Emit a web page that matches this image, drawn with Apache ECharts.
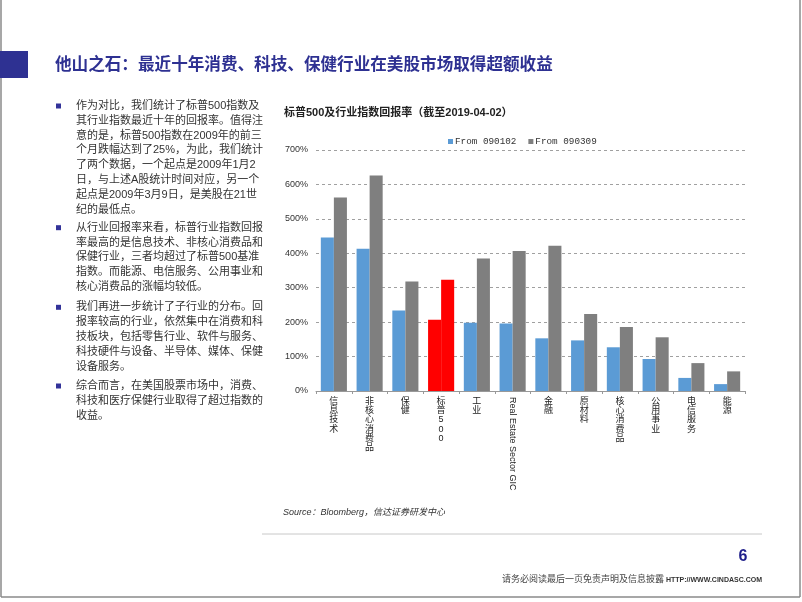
<!DOCTYPE html>
<html><head><meta charset="utf-8">
<script src="https://cdn.jsdelivr.net/npm/echarts@6/dist/echarts.min.js"></script>
<style>html,body{margin:0;padding:0;background:#fff}#c{width:802px;height:602px}</style>
</head><body><div id="c"></div>
<script>
var categories = ['信息技术','非核心消费品','保健','标普500','工业','Real Estate Sector GIC','金融','原材料','核心消费品','公用事业','电信服务','能源'];
var from090102 = [446, 413, 234, 207, 198, 196, 153, 147, 127, 93, 38, 20];
var from090309 = [562, 626, 318, 323, 385, 407, 422, 224, 186, 156, 81, 57];
var seriesNames = ['From 090102', 'From 090309'];
var highlightCategory = '标普500';
var yTicks = {min: 0, max: 700, interval: 100};

var pageTitle = '他山之石：最近十年消费、科技、保健行业在美股市场取得超额收益';
var chartTitle = '标普500及行业指数回报率（截至2019-04-02）';
var bullets = [
  '作为对比，我们统计了标普500指数及\n其行业指数最近十年的回报率。值得注\n意的是，标普500指数在2009年的前三\n个月跌幅达到了25%，为此，我们统计\n了两个数据，一个起点是2009年1月2\n日，与上述A股统计时间对应，另一个\n起点是2009年3月9日，是美股在21世\n纪的最低点。',
  '从行业回报率来看，标普行业指数回报\n率最高的是信息技术、非核心消费品和\n保健行业，三者均超过了标普500基准\n指数。而能源、电信服务、公用事业和\n核心消费品的涨幅均较低。',
  '我们再进一步统计了子行业的分布。回\n报率较高的行业，依然集中在消费和科\n技板块，包括零售行业、软件与服务、\n科技硬件与设备、半导体、媒体、保健\n设备服务。',
  '综合而言，在美国股票市场中，消费、\n科技和医疗保健行业取得了超过指数的\n收益。'
];
var sourceText = 'Source：Bloomberg，信达证券研发中心';
var pageNum = '6';
var footerText = '请务必阅读最后一页免责声明及信息披露';
var footerUrl = 'HTTP://WWW.CINDASC.COM';

var FF = '"Liberation Sans", Arial, "Noto Sans CJK SC", sans-serif';
var blue = '#5B9BD5', grey = '#7F7F7F', red = '#FF0000';

function colorData(vals, base) {
  return vals.map(function (v, i) {
    return categories[i] === highlightCategory ? {value: v, itemStyle: {color: red}} : {value: v, itemStyle: {color: base}};
  });
}
function stackLabel(v) {
  if (/^[A-Za-z ]+$/.test(v) && v.indexOf(' ') >= 0) return '';
  return v.split('').join('\n');
}

var LH = 14.8;
var firstLineCenters = [106, 227.7, 307.3, 386];
var graphics = [
  {type: 'line', shape: {x1: 1, y1: 0, x2: 1, y2: 597}, style: {stroke: '#8a8a8a', lineWidth: 1.5}},
  {type: 'line', shape: {x1: 800, y1: 0, x2: 800, y2: 597}, style: {stroke: '#8a8a8a', lineWidth: 1.5}},
  {type: 'line', shape: {x1: 1, y1: 597, x2: 800, y2: 597}, style: {stroke: '#8a8a8a', lineWidth: 1.5}},
  {type: 'rect', shape: {x: 0, y: 51, width: 28, height: 27}, style: {fill: '#2E3192'}},
  {type: 'text', x: 55, y: 65, style: {text: pageTitle, font: 'bold 16.6px ' + FF, fill: '#2E3192', textVerticalAlign: 'middle'}},
  {type: 'text', x: 284, y: 113, style: {text: chartTitle, font: 'bold 11px ' + FF, fill: '#222', textVerticalAlign: 'middle'}},
  {type: 'text', x: 283, y: 512, style: {text: sourceText, font: 'italic 9px ' + FF, fill: '#333', textVerticalAlign: 'middle'}},
  {type: 'line', shape: {x1: 262, y1: 534, x2: 762, y2: 534}, style: {stroke: '#c8c8c8', lineWidth: 1}},
  {type: 'text', x: 743, y: 557, style: {text: pageNum, font: 'bold 16px ' + FF, fill: '#1F1F8A', textAlign: 'center', textVerticalAlign: 'middle'}},
  {type: 'text', x: 664, y: 580, style: {text: footerText, font: '9px ' + FF, fill: '#444', textAlign: 'right', textVerticalAlign: 'middle'}},
  {type: 'text', x: 762, y: 580, style: {text: footerUrl, font: 'bold 7px ' + FF, fill: '#333', textAlign: 'right', textVerticalAlign: 'middle'}}
];
bullets.forEach(function (t, i) {
  var c = firstLineCenters[i];
  graphics.push({type: 'rect', shape: {x: 56, y: c - 2.5, width: 5, height: 5}, style: {fill: '#333399'}});
  graphics.push({type: 'text', x: 76, y: c - LH / 2, style: {text: t, font: '11px ' + FF, fill: '#333', lineHeight: LH, textVerticalAlign: 'top'}});
});

var chart = echarts.init(document.getElementById('c'), null, {renderer: 'canvas'});
chart.setOption({
  animation: false,
  backgroundColor: '#fff',
  textStyle: {fontFamily: FF},
  graphic: graphics,
  legend: {
    left: 443, top: 132, itemWidth: 5, itemHeight: 5, itemGap: 12, icon: 'rect',
    textStyle: {fontFamily: '"Liberation Mono", "DejaVu Sans Mono", monospace', fontSize: 9.3, color: '#333', padding: [0, 0, 0, -3]},
    data: [{name: seriesNames[0], itemStyle: {color: blue}}, {name: seriesNames[1], itemStyle: {color: grey}}]
  },
  grid: {left: 316, right: 57, top: 150, bottom: 211, containLabel: false},
  xAxis: [{
    type: 'category', data: categories,
    axisLine: {lineStyle: {color: '#999'}},
    axisTick: {show: true, length: 3, lineStyle: {color: '#999'}},
    axisLabel: {interval: 0, fontSize: 9, lineHeight: 9.2, color: '#222', margin: 6, verticalAlign: 'top', align: 'center', formatter: stackLabel}
  }, {
    type: 'category', data: categories, position: 'bottom',
    axisLine: {show: false}, axisTick: {show: false}, splitLine: {show: false},
    axisLabel: {interval: 0, rotate: -90, fontSize: 9, color: '#222', margin: 6,
      formatter: function (v) { return stackLabel(v) === '' ? v : ''; }}
  }],
  yAxis: {
    type: 'value', min: yTicks.min, max: yTicks.max, interval: yTicks.interval,
    axisLine: {show: false}, axisTick: {show: false},
    axisLabel: {formatter: '{value}%', fontSize: 9, color: '#333', margin: 8},
    splitLine: {lineStyle: {color: '#a0a0a0', type: [3, 3], width: 1}}
  },
  series: [
    {name: seriesNames[0], type: 'bar', xAxisIndex: 0, data: colorData(from090102, blue), barGap: '0%', barCategoryGap: '27%', itemStyle: {color: blue}},
    {name: seriesNames[1], type: 'bar', xAxisIndex: 0, data: colorData(from090309, grey), barGap: '0%', barCategoryGap: '27%', itemStyle: {color: grey}}
  ]
});
</script></body></html>
